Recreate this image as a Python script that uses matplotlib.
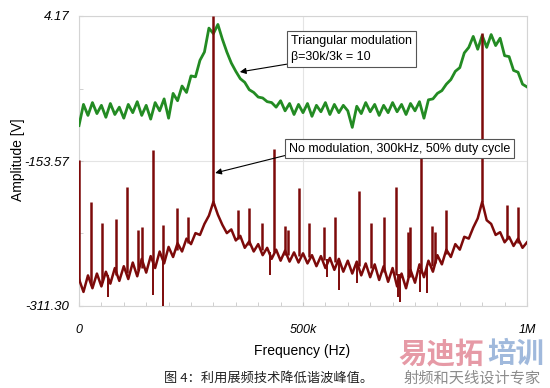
import numpy as np
import matplotlib
matplotlib.use('Agg')
import matplotlib.pyplot as plt
from matplotlib.ticker import FixedLocator, MultipleLocator

plt.rcParams['font.family'] = ['Liberation Sans', 'Noto Sans CJK SC', 'DejaVu Sans']

# sampling grid of both traces, kHz
freq_khz = np.arange(0, 1001, 10)

# triangular modulation trace (green)
green_amp = [
    -115, -92, -104, -90, -102, -93, -106, -91, -103, -95,
    -107, -92, -101, -89, -104, -93, -108, -90, -99, -86,
    -107, -80, -88, -72, -79, -61, -62, -44, -35, -9,
    -15, -5, -21, -35, -47, -56, -64, -68, -76, -79,
    -84, -85, -89, -90, -95, -88, -99, -91, -103, -92,
    -101, -91, -105, -93, -100, -90, -103, -92, -101, -93,
    -99, -117, -94, -102, -90, -100, -92, -104, -93, -101,
    -90, -100, -92, -103, -91, -99, -89, -107, -87, -86,
    -80, -77, -70, -65, -56, -52, -36, -30, -18, -32,
    -17, -30, -16, -28, -20, -39, -40, -55, -57, -70,
    -73,
]

# no modulation trace (dark red), floor between harmonics
red_amp = [
    -282, -296, -278, -292, -276, -290, -274, -287, -270, -284,
    -268, -282, -264, -279, -260, -275, -257, -270, -252, -265,
    -247, -258, -243, -252, -238, -244, -232, -234, -222, -213,
    -198, -212, -223, -232, -228, -240, -235, -248, -241, -252,
    -244, -256, -248, -260, -250, -262, -251, -263, -253, -264,
    -254, -265, -256, -268, -257, -270, -259, -272, -260, -274,
    -262, -276, -263, -278, -265, -280, -266, -283, -268, -285,
    -270, -290, -276, -292, -272, -286, -266, -280, -262, -274,
    -256, -266, -250, -258, -244, -250, -236, -238, -226, -216,
    -198, -218, -222, -234, -231, -242, -236, -246, -238, -248,
    -242,
]

# narrow spectral lines of the red trace
spike_khz = [0, 27, 51, 83, 107, 132, 141, 165, 188, 219, 243, 300,
             355, 379, 408, 435, 460, 467, 491, 513, 547, 571, 625, 652,
             681, 708, 734, 739, 763, 788, 795, 819, 900, 955, 980]
spike_top = [-152.5, -198, -221, -217, -182, -229, -225, -142, -223, -205,
             -214, 4.17, -207, -205, -221, -140, -224, -229, -183, -221,
             -225, -214, -186, -221, -214, -182, -231, -225, -150, -224,
             -231, -207, -14, -201, -204]
spike_base = [-285, -288, -285, -278, -275, -272, -270, -265, -260, -250,
              -243, -198, -238, -245, -250, -253, -256, -256, -257, -258,
              -261, -263, -268, -270, -274, -278, -280, -280, -275, -268,
              -265, -255, -198, -238, -243]

# downward dips of the red trace
dip_khz = [65, 165, 188, 426, 554, 580, 620, 712, 717, 761, 777]
dip_low = [-301, -299, -311, -278, -280, -294, -286, -301, -307, -296, -297]
dip_base = [-278, -265, -260, -253, -260, -262, -266, -276, -276, -272, -268]

green_c = '#238b23'
red_c = '#7d0a0a'

fig = plt.figure(figsize=(5.5, 3.88), dpi=100)
ax = fig.add_axes([79 / 550, 1 - 306 / 388, 448 / 550, 290 / 388])

f = freq_khz * 1000
ax.plot(f, green_amp, color=green_c, lw=2.0, zorder=3)
ax.plot(f, red_amp, color=red_c, lw=1.8, zorder=4)
ax.vlines(np.array(spike_khz) * 1000, spike_base, spike_top, color=red_c, lw=1.8, zorder=4)
ax.vlines(np.array(dip_khz) * 1000, dip_low, dip_base, color=red_c, lw=1.4, zorder=4)

ax.set_xlim(0, 1e6)
ax.set_ylim(-311.30, 4.17)
ax.xaxis.set_major_locator(FixedLocator([0, 5e5, 1e6]))
ax.set_xticklabels(['0', '500k', '1M'], style='italic', fontsize=9)
ax.xaxis.set_minor_locator(MultipleLocator(5e4))
ax.yaxis.set_major_locator(FixedLocator([-311.30, -153.57, 4.17]))
ax.set_yticklabels(['-311.30', '-153.57', '4.17'], style='italic', fontsize=9.5)
ax.yaxis.set_minor_locator(FixedLocator([-232.4, -74.7]))
ax.tick_params(which='both', direction='in', color='#c8c8c8', length=3)
ax.tick_params(axis='x', which='major', pad=13)
ax.tick_params(axis='y', which='major', pad=7)
ax.grid(True, which='major', color='#e4e4e4', lw=0.8)
for s in ax.spines.values():
    s.set_color('#d4d4d4')
    s.set_linewidth(0.8)

ax.annotate('Triangular modulation\n\u03b2=30k/3k = 10', xy=(359e3, -56.7), xytext=(473e3, -47.5),
            ha='left', va='bottom', fontsize=9, linespacing=1.55, zorder=6,
            bbox=dict(boxstyle='square,pad=0.3', fc='white', ec='#555555', lw=0.8),
            arrowprops=dict(arrowstyle='-|>', color='black', lw=0.8, relpos=(0, 0),
                            shrinkA=0, shrinkB=0, mutation_scale=9))
ax.annotate('No modulation, 300kHz, 50% duty cycle', xy=(304e3, -166.6), xytext=(469e3, -146.5),
            ha='left', va='bottom', fontsize=9, zorder=6,
            bbox=dict(boxstyle='square,pad=0.3', fc='white', ec='#555555', lw=0.8),
            arrowprops=dict(arrowstyle='-|>', color='black', lw=0.8, relpos=(0, 0),
                            shrinkA=0, shrinkB=0, mutation_scale=9))

fig.text(18 / 550, 1 - 160 / 388, 'Amplitude [V]', rotation=90, ha='center', va='center', fontsize=10)
fig.text(302 / 550, 1 - 351 / 388, 'Frequency (Hz)', ha='center', va='center', fontsize=10)
fig.text(269 / 550, 1 - 378 / 388, '图 4：利用展频技术降低谐波峰值。', ha='center', va='center',
         fontsize=9.5, family=['Noto Sans CJK SC'], style='italic', color='#222222')
fig.text(398 / 550, 1 - 354 / 388, '易迪拓', ha='left', va='center', fontsize=20.5,
         family=['Noto Sans CJK SC'], weight='bold', color='#e69aa6')
fig.text(487 / 550, 1 - 354 / 388, '培训', ha='left', va='center', fontsize=20.5,
         family=['Noto Sans CJK SC'], weight='bold', color='#a0b9dc')
fig.text(472 / 550, 1 - 378 / 388, '射频和天线设计专家', ha='center', va='center', fontsize=11,
         family=['Noto Sans CJK SC'], color='#8c8c8c')

fig.savefig('out.png', dpi=100)
